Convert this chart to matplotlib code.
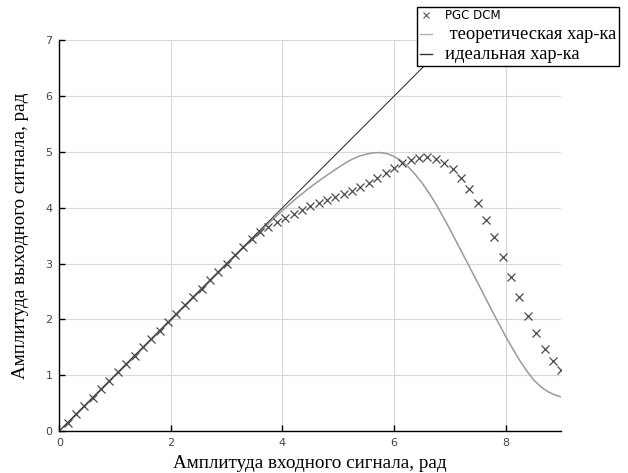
import matplotlib
matplotlib.use("Agg")
import matplotlib.pyplot as plt
from matplotlib.lines import Line2D

# PGC DCM measured points (x step 0.15)
PGC_X = [0.15, 0.30, 0.45, 0.60, 0.75, 0.90, 1.05, 1.20, 1.35, 1.50,
         1.65, 1.80, 1.95, 2.10, 2.25, 2.40, 2.55, 2.70, 2.85, 3.00,
         3.15, 3.30, 3.45, 3.60, 3.75, 3.90, 4.05, 4.20, 4.35, 4.50,
         4.65, 4.80, 4.95, 5.10, 5.25, 5.40, 5.55, 5.70, 5.85, 6.00,
         6.15, 6.30, 6.45, 6.60, 6.75, 6.90, 7.05, 7.20, 7.35, 7.50,
         7.65, 7.80, 7.95, 8.10, 8.25, 8.40, 8.55, 8.70, 8.85, 9.00]
PGC_Y = [0.15, 0.30, 0.45, 0.60, 0.75, 0.90, 1.05, 1.20, 1.35, 1.50,
         1.65, 1.80, 1.95, 2.10, 2.25, 2.40, 2.55, 2.70, 2.85, 3.00,
         3.15, 3.30, 3.44, 3.56, 3.66, 3.74, 3.81, 3.88, 3.96, 4.03,
         4.09, 4.14, 4.19, 4.25, 4.30, 4.37, 4.45, 4.53, 4.62, 4.71,
         4.80, 4.85, 4.89, 4.91, 4.88, 4.81, 4.70, 4.54, 4.33, 4.09,
         3.79, 3.47, 3.11, 2.76, 2.40, 2.06, 1.75, 1.47, 1.26, 1.09]

# theoretical characteristic
TH_X = [0.0, 0.5, 1.0, 1.5, 2.0, 2.5, 3.0, 3.25, 3.5, 3.75, 4.0, 4.25,
        4.5, 4.75, 5.0, 5.125, 5.25, 5.375, 5.5, 5.625, 5.75, 5.875, 6.0,
        6.125, 6.25, 6.375, 6.5, 6.625, 6.75, 6.875, 7.0, 7.25, 7.5,
        7.75, 8.0, 8.125, 8.25, 8.375, 8.5, 8.625, 8.75, 8.875, 9.0]
TH_Y = [0.0, 0.5, 1.0, 1.5, 2.0, 2.5, 3.0, 3.24, 3.48, 3.72, 3.95, 4.17,
        4.37, 4.55, 4.72, 4.80, 4.87, 4.925, 4.96, 4.985, 4.99, 4.97, 4.92,
        4.845, 4.74, 4.605, 4.45, 4.27, 4.07, 3.85, 3.62, 3.14, 2.66,
        2.17, 1.70, 1.48, 1.27, 1.085, 0.92, 0.80, 0.71, 0.65, 0.61]

# ideal characteristic
ID_X = [0.0, 7.0]
ID_Y = [0.0, 7.0]

X_TICKS = [0, 2, 4, 6, 8]
Y_TICKS = [0, 1, 2, 3, 4, 5, 6, 7]

fig = plt.figure(figsize=(6.28, 4.73), dpi=100)
ax = fig.add_axes([0.0944, 0.0888, 0.7994, 0.8258])

ax.plot(ID_X, ID_Y, color="#3a3a3a", lw=0.8, zorder=3)
ax.plot(TH_X, TH_Y, color="#9a9a9a", lw=1.1, zorder=2)
ax.plot(PGC_X, PGC_Y, ls="none", marker="x", ms=6, mew=0.9,
        color="#4a4a4a", zorder=4)

ax.set_xlim(0, 9)
ax.set_ylim(0, 7)
ax.set_xticks(X_TICKS)
ax.set_yticks(Y_TICKS)
ax.grid(color="#d8d8d8", lw=0.8)
ax.set_axisbelow(True)
for s in ("top", "right"):
    ax.spines[s].set_visible(False)
for s in ("left", "bottom"):
    ax.spines[s].set_linewidth(1.0)
ax.tick_params(direction="in", length=4, width=1, labelsize=8,
               labelcolor="#444444", pad=5)

serif = ["Liberation Serif", "DejaVu Serif"]
ax.set_xlabel("Амплитуда входного сигнала, рад", family=serif,
              fontsize=13.8, labelpad=5)
ax.set_ylabel("Амплитуда выходного сигнала, рад", family=serif,
              fontsize=13.8, labelpad=12)

handles = [Line2D([], [], ls="none", marker="x", ms=5, mew=0.8, color="#555555"),
           Line2D([], [], color="#b0b0b0", lw=1.0),
           Line2D([], [], color="#333333", lw=1.0)]
labels = ["PGC DCM", " теоретическая хар-ка", "идеальная хар-ка"]
leg = fig.legend(handles, labels, loc="upper left",
                 bbox_to_anchor=(0.664, 0.986), frameon=True, fancybox=False,
                 edgecolor="black", framealpha=1, handlelength=0.9,
                 handletextpad=0.9, borderpad=0.2, labelspacing=0.25,
                 borderaxespad=0)
leg.get_frame().set_linewidth(1.0)
txts = leg.get_texts()
txts[0].set_fontsize(8.5)
txts[0].set_family(["DejaVu Sans"])
for t in txts[1:]:
    t.set_fontsize(13.3)
    t.set_family(serif)

fig.savefig("out.png", dpi=100)
